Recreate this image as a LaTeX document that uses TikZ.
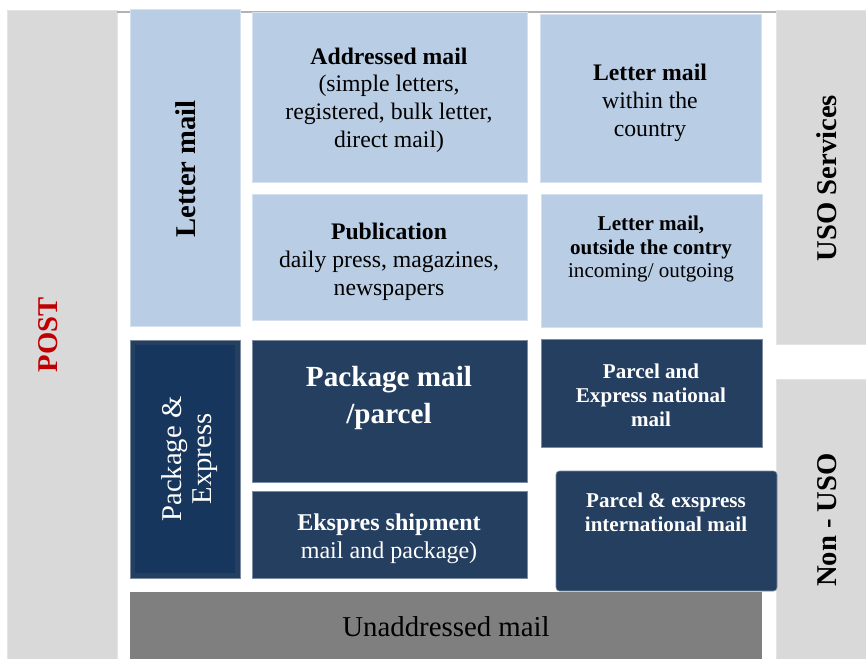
\documentclass[tikz,border=0pt]{standalone}
\usepackage{fontspec}
\setmainfont{LiberationSerif}[Extension=.ttf, UprightFont=*-Regular, BoldFont=*-Bold, ItalicFont=*-Italic, BoldItalicFont=*-BoldItalic]
\definecolor{lightblue}{HTML}{B9CDE5}
\definecolor{navy}{HTML}{253F60}
\definecolor{deepnavy}{HTML}{17365D}
\definecolor{sidegray}{HTML}{D9D9D9}
\definecolor{darkgray}{HTML}{7F7F7F}
\definecolor{postred}{HTML}{C00000}
\tikzset{
  lightbox/.style={fill=lightblue, draw=lightblue!60!white, line width=0.3pt},
  darkbox/.style={fill=navy, draw=navy!60!white, line width=0.3pt},
  sidebox/.style={fill=sidegray, draw=sidegray!70!white, line width=0.3pt},
  blacktext/.style={align=center, text=black, font=\fontsize{13.5}{15.8}\selectfont},
  whitetext/.style={align=center, text=white, font=\fontsize{12}{13.6}\selectfont\bfseries},
  sidelabel/.style={rotate=90, font=\fontsize{16.3}{19}\selectfont\bfseries}
}
\begin{document}
\begin{tikzpicture}[x=0.02cm, y=-0.02cm]
  \useasboundingbox (0,0) rectangle (866,659);
  % side columns
  \draw[sidebox] (7,10) rectangle (117,659);
  \draw[sidebox] (776,10) rectangle (866,344);
  \draw[sidebox] (776,379) rectangle (866,659);
  \draw[gray!60, line width=0.6pt] (117,12) -- (776,12);
  % letter mail
  \draw[lightbox] (130,9) rectangle (240,326);
  \draw[lightbox] (252,12) rectangle (527,182);
  \draw[lightbox] (540,14) rectangle (761,182);
  \draw[lightbox] (252,194) rectangle (527,320);
  \draw[lightbox] (541,194) rectangle (762,327);
  % package and express
  \draw[darkbox] (130,340) rectangle (240,578);
  \fill[deepnavy] (135,345) rectangle (235,573);
  \draw[darkbox] (252,340) rectangle (527,482);
  \draw[darkbox] (252,491) rectangle (527,578);
  \draw[darkbox] (541,339) rectangle (762,447);
  \draw[darkbox, rounded corners=2pt] (556,471) rectangle (777,591);
  % unaddressed
  \fill[darkgray] (130,592) rectangle (762,659);

  \node[sidelabel, text=postred] (post) at (48,335) {POST};
  \node[sidelabel] (letter) at (186,169) {Letter mail};
  \node[sidelabel] (uso) at (827,178) {USO Services};
  \node[sidelabel] (nonuso) at (827,520) {Non - USO};
  \node[rotate=90, align=center, text=white, font=\fontsize{16.3}{17}\selectfont] (package) at (190,459) {Package \&\\Express};

  \node[blacktext] (addressed) at (389,100) {\textbf{Addressed mail}\\(simple letters,\\registered, bulk letter,\\direct mail)};
  \node[blacktext] (within) at (650,103) {\textbf{Letter mail}\\within the\\country};
  \node[blacktext] (publication) at (389,262) {\textbf{Publication}\\daily press, magazines,\\newspapers};
  \node[blacktext, font=\fontsize{12}{13.6}\selectfont] (outside) at (651,249) {\textbf{Letter mail,}\\\textbf{outside the contry}\\incoming/ outgoing};

  \node[whitetext, font=\fontsize{16.6}{21.5}\selectfont\bfseries] (parcel) at (389,398) {Package mail\\/parcel};
  \node[align=center, text=white, font=\fontsize{13.7}{15.8}\selectfont] (ekspres) at (389,539) {\textbf{Ekspres shipment}\\mail and package)};
  \node[whitetext] (national) at (651,395) {Parcel and\\Express national\\mail};
  \node[whitetext] (international) at (666,512) {Parcel \& exspress\\international mail};

  \node[font=\fontsize{16.4}{19}\selectfont] (unaddressed) at (446,627) {Unaddressed mail};
\end{tikzpicture}
\end{document}
